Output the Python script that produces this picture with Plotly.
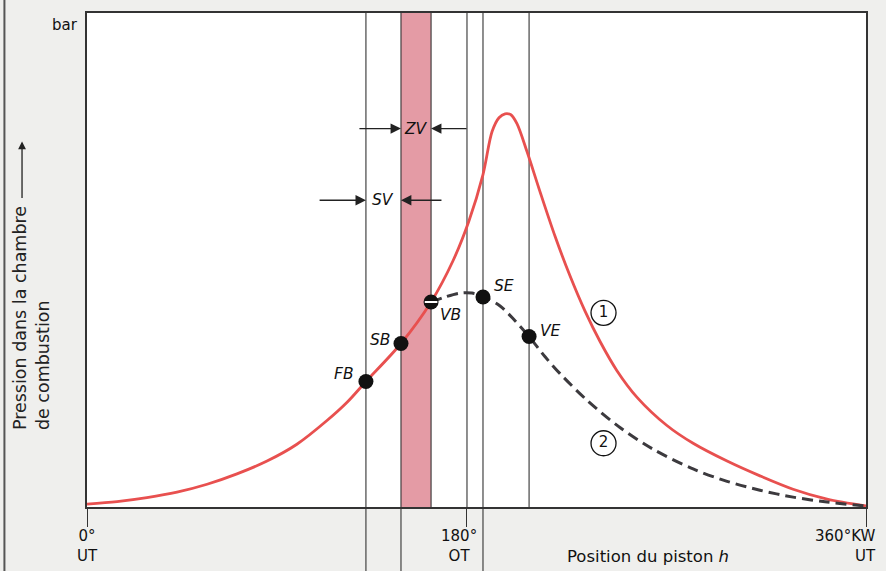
import plotly.graph_objects as go

# pression (unités du graphique, 0..100 = bas..haut) en fonction de la position du piston (0..360)
red_x = [0, 13.9, 27.7, 41.6, 55.5, 69.3, 83.2, 97.0, 110.9, 120.2, 128.9, 145.1, 159.0, 169.1,
         176.5, 183.0, 187.2, 190.4, 193.2, 195.9, 198.7, 203.3, 209.3, 216.3, 223.2, 230.1,
         237.1, 244.9, 254.2, 268.0, 280.1, 295.8, 311.0, 326.3, 342.0, 360]
red_y = [0.6, 1.1, 1.9, 3.0, 4.6, 6.7, 9.3, 12.7, 17.5, 21.2, 25.4, 33.1, 41.5, 49.8,
         57.9, 67.3, 76.0, 78.8, 79.6, 79.4, 77.6, 72.0, 63.9, 54.8, 46.8, 39.7,
         33.5, 27.6, 22.2, 16.5, 12.9, 9.3, 6.3, 3.6, 1.6, 0.2]

dash_x = [159.0, 165.4, 172.4, 177.9, 183.5, 190.9, 197.8, 204.3, 211.7, 218.6, 231.1,
          246.3, 261.6, 280.1, 295.8, 311.0, 326.3, 342.0, 360]
dash_y = [41.5, 42.5, 43.3, 43.3, 42.5, 40.7, 37.7, 34.5, 30.4, 27.0, 21.6,
          16.1, 11.7, 7.7, 5.2, 3.4, 2.0, 1.0, 0.2]

pt_names = ["FB", "SB", "VB", "SE", "VE"]
pt_x = [128.9, 145.1, 159.0, 183.0, 204.3]
pt_y = [25.4, 33.1, 41.5, 42.5, 34.5]

band = [145.1, 159.0]      # ZV
ot_x = 175.6               # 180° OT
tick_vals = [0, ot_x, 360]

curve_ids = ["1", "2"]
id_x = [238.7, 238.7]
id_y = [39.3, 12.9]

RED = "#e8504f"
FONT = "DejaVu Sans, Arial"

fig = go.Figure()

fig.add_trace(go.Scatter(x=red_x, y=red_y, mode="lines",
                         line=dict(color=RED, width=2.8, shape="spline", smoothing=0.9),
                         hoverinfo="skip"))
fig.add_trace(go.Scatter(x=dash_x, y=dash_y, mode="lines",
                         line=dict(color="#3c3a3e", width=3, dash="11px,6px", shape="spline", smoothing=0.9),
                         hoverinfo="skip"))
fig.add_trace(go.Scatter(x=pt_x, y=pt_y, mode="markers", marker=dict(color="#111", size=15),
                         hoverinfo="skip"))
# petit trait blanc dans le point VB
fig.add_trace(go.Scatter(x=[pt_x[2]], y=[pt_y[2]], mode="markers",
                         marker=dict(symbol="line-ew", size=9, line=dict(color="white", width=2)),
                         hoverinfo="skip"))
fig.add_trace(go.Scatter(x=id_x, y=id_y, mode="markers+text", text=curve_ids,
                         textposition="middle center",
                         textfont=dict(family=FONT, size=15, color="#111"),
                         marker=dict(symbol="circle-open", size=25, color="#111", line=dict(width=1.3)),
                         hoverinfo="skip"))

shapes = []
# bande ZV
shapes.append(dict(type="rect", xref="x", yref="paper", x0=band[0], x1=band[1], y0=0, y1=1,
                   fillcolor="#e49ba5", line=dict(width=0), layer="below"))

# lignes verticales (x, bas en coord. papier)
vlines = [(pt_x[0], -0.13), (band[0], -0.13), (band[1], 0), (ot_x, 0), (pt_x[3], -0.13), (pt_x[4], 0)]
for xv, yb in vlines:
    shapes.append(dict(type="line", xref="x", yref="paper", x0=xv, x1=xv, y0=yb, y1=1,
                       line=dict(color="#333", width=1.1), layer="below"))
# bord du scan à gauche
shapes.append(dict(type="line", xref="paper", yref="paper", x0=-0.106, x1=-0.106, y0=-0.13, y1=1.03,
                   line=dict(color="#555", width=2)))

ann = []
lab_off = {"FB": ("right", -10, 8), "SB": ("right", -9, 3), "VB": ("left", 7, -13),
           "SE": ("left", 9, 11), "VE": ("left", 9, 6)}
for name, xv, yv in zip(pt_names, pt_x, pt_y):
    anc, dx, dy = lab_off[name]
    ann.append(dict(x=xv, y=yv, text="<i>%s</i>" % name, showarrow=False, xanchor=anc, xshift=dx, yshift=dy,
                    font=dict(family=FONT, size=15.5, color="#111")))

# flèches ZV / SV
y_zv, y_sv = 76.6, 62.1
arrows = [(band[0], y_zv, 125.2), (band[1], y_zv, 176.1), (pt_x[0], y_sv, 106.8), (band[0], y_sv, 164.5)]
for xh, yh, xt in arrows:
    ann.append(dict(x=xh, y=yh, ax=xt, ay=yh, axref="x", ayref="y", text="", showarrow=True,
                    arrowhead=2, arrowsize=1.6, arrowwidth=1.3, arrowcolor="#222", standoff=0))
ann.append(dict(x=(band[0] + band[1]) / 2, y=y_zv, text="<i>ZV</i>", showarrow=False,
                font=dict(family=FONT, size=15.5, color="#111")))
ann.append(dict(x=(pt_x[0] + band[0]) / 2, y=y_sv, text="<i>SV</i>", showarrow=False,
                font=dict(family=FONT, size=15.5, color="#111")))

# libellés de l'axe x
tick_txt = [("0°<br>UT", 0, "center", 0), ("180°<br>OT", ot_x, "center", -8), ("360°KW<br>UT", 360, "right", 12)]
for txt, xv, anc, dx in tick_txt:
    ann.append(dict(x=xv, y=0, xref="x", yref="paper", text=txt, showarrow=False, xanchor=anc, xshift=dx,
                    yanchor="top", yshift=-18, align="center" if anc == "center" else "right",
                    font=dict(family=FONT, size=15, color="#111")))
ann.append(dict(x=0.72, y=0, xref="paper", yref="paper", text="Position du piston <i>h</i>", showarrow=False,
                xanchor="center", yanchor="top", yshift=-38, font=dict(family=FONT, size=16.5, color="#111")))

# axe y
ann.append(dict(x=-0.009, y=1.0, xref="paper", yref="paper", text="bar", showarrow=False, xanchor="right",
                yanchor="top", yshift=-1, font=dict(family=FONT, size=15, color="#111")))
ann.append(dict(x=-0.071, y=0.151, xref="paper", yref="paper",
                text="Pression dans la chambre<br>de combustion", showarrow=False, textangle=-90,
                xanchor="center", yanchor="bottom", align="left",
                font=dict(family=FONT, size=17.5, color="#222")))
ann.append(dict(x=-0.0834, y=0.74, xref="paper", yref="paper", ax=0, ay=58, text="", showarrow=True,
                arrowhead=2, arrowsize=1.2, arrowwidth=1.3, arrowcolor="#222", standoff=0))

fig.update_layout(
    width=886, height=571,
    margin=dict(l=87, r=20, t=11, b=64),
    paper_bgcolor="#efefed", plot_bgcolor="white",
    showlegend=False,
    shapes=shapes, annotations=ann,
    font=dict(family=FONT, color="#111"),
)
fig.update_xaxes(range=[0, 360], showgrid=False, zeroline=False, showline=True, mirror=True,
                 linecolor="#333", linewidth=1.5, tickvals=tick_vals, ticks="outside", ticklen=18,
                 tickcolor="#333", tickwidth=1.2, showticklabels=False)
fig.update_yaxes(range=[0, 100], showgrid=False, zeroline=False, showline=True, mirror=True,
                 linecolor="#333", linewidth=1.5, showticklabels=False, ticks="")

fig.write_html("out.html", config={"displayModeBar": False},
               post_script="document.body.style.margin='0';document.body.style.overflow='hidden';")
